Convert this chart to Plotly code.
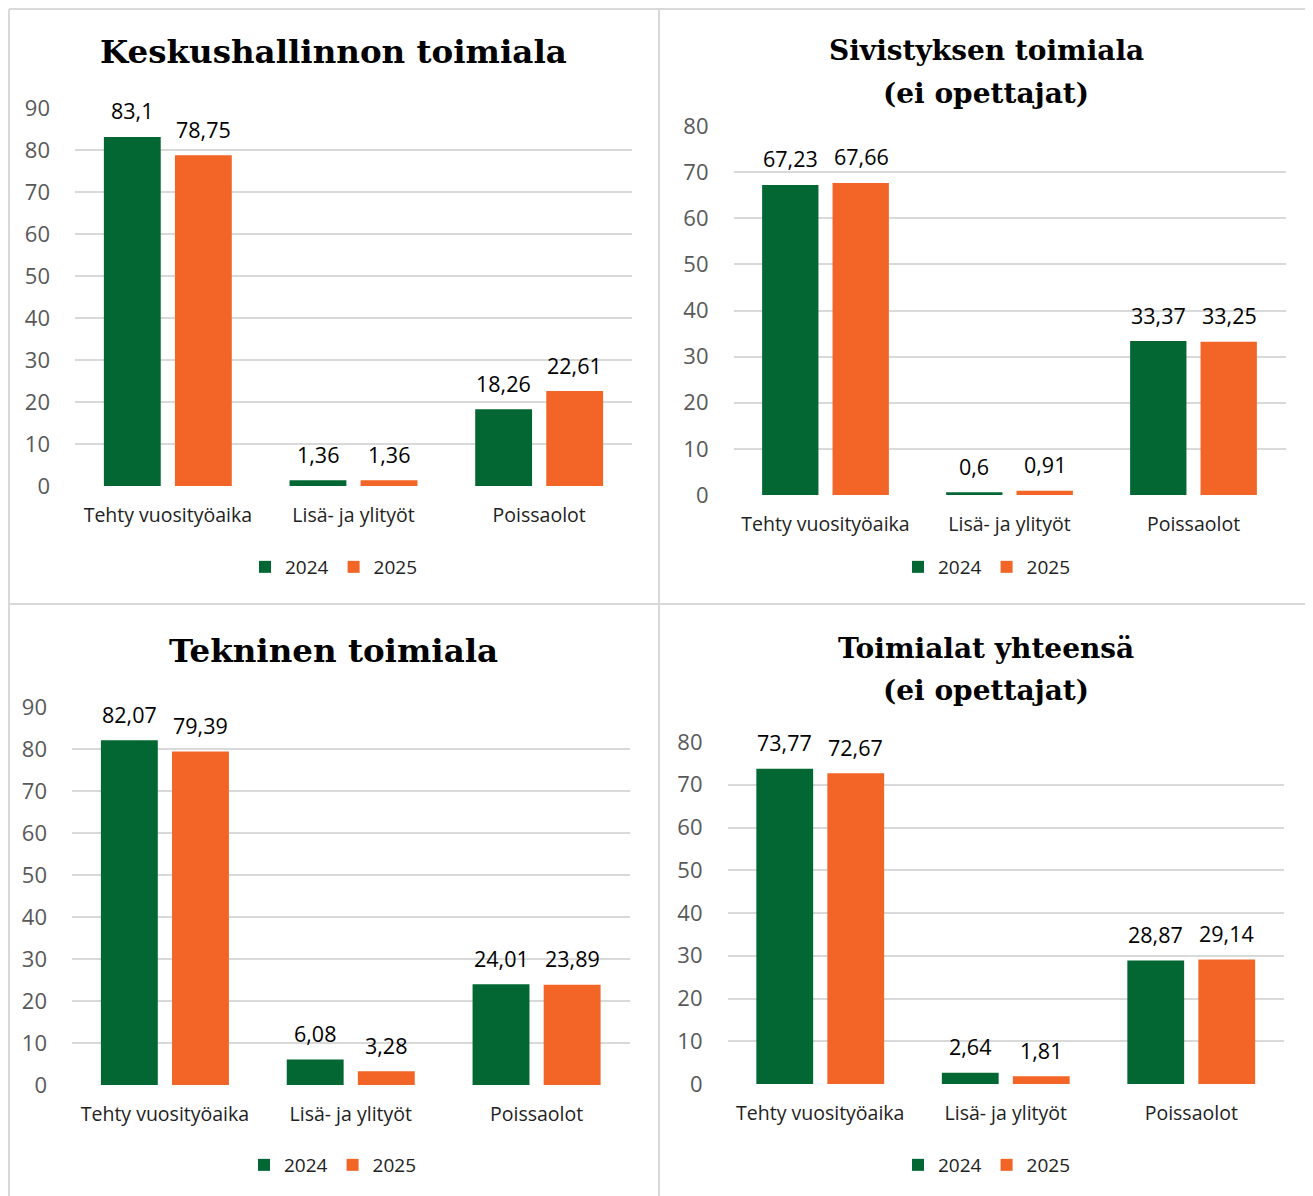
import plotly.graph_objects as go

# page body has an 8px margin, so the figure is drawn 8px smaller and every
# pixel position measured on the reference is shifted by that offset
OFF = 8
W, H = 1313 - OFF, 1196 - OFF

categories = ["Tehty vuosityöaika", "Lisä- ja ylityöt", "Poissaolot"]
years = ["2024", "2025"]

keskus_2024 = [83.1, 1.36, 18.26]
keskus_2025 = [78.75, 1.36, 22.61]

sivistys_2024 = [67.23, 0.6, 33.37]
sivistys_2025 = [67.66, 0.91, 33.25]

tekninen_2024 = [82.07, 6.08, 24.01]
tekninen_2025 = [79.39, 3.28, 23.89]

yhteensa_2024 = [73.77, 2.64, 28.87]
yhteensa_2025 = [72.67, 1.81, 29.14]

titles = [["Keskushallinnon toimiala"],
          ["Sivistyksen toimiala", "(ei opettajat)"],
          ["Tekninen toimiala"],
          ["Toimialat yhteensä", "(ei opettajat)"]]

GREEN = "#036734"
ORANGE = "#F26527"
GRID = "#d9d9d9"
BODY_FONT = "Open Sans"
TITLE_FONT = "DejaVu Serif"


def fmt(v):
    return f"{v:g}".replace(".", ",")


def px(x):
    return (x - OFF) / W


def py(y):
    return 1 - (y - OFF) / H


# pixel boxes of the four plot areas on the reference: (x0, x1, ytop, ybottom)
panels = [
    dict(s2024=keskus_2024, s2025=keskus_2025, box=(75, 632, 108, 486), ymax=90,
         title_x=333, title_ys=[52], title_size=32.5, legend_xy=(334, 567)),
    dict(s2024=sivistys_2024, s2025=sivistys_2025, box=(733.5, 1285.5, 126, 495), ymax=80,
         title_x=986, title_ys=[50, 93], title_size=28, legend_xy=(987, 567)),
    dict(s2024=tekninen_2024, s2025=tekninen_2025, box=(72, 629.5, 707, 1085), ymax=90,
         title_x=333, title_ys=[650], title_size=32.5, legend_xy=(333, 1165)),
    dict(s2024=yhteensa_2024, s2025=yhteensa_2025, box=(727.5, 1284, 742, 1084), ymax=80,
         title_x=986, title_ys=[648, 690], title_size=28, legend_xy=(987, 1165)),
]

fig = go.Figure()
annotations = []
layout = {}

for i, p in enumerate(panels):
    n = "" if i == 0 else str(i + 1)
    xa, ya = "x" + n, "y" + n
    leg = "legend" + n
    x0, x1, yt, yb = p["box"]

    for yr, vals, col in [(years[0], p["s2024"], GREEN), (years[1], p["s2025"], ORANGE)]:
        fig.add_trace(go.Bar(x=categories, y=vals, name=yr, marker_color=col,
                             marker_line_width=0, xaxis=xa, yaxis=ya, legend=leg,
                             cliponaxis=False))
        shift = -35.5 if yr == "2024" else 35.5
        for c, v in zip(categories, vals):
            annotations.append(dict(x=c, y=v, xref=xa, yref=ya, text=fmt(v),
                                    showarrow=False, xshift=shift, yshift=26,
                                    yanchor="middle",
                                    font=dict(family=BODY_FONT, size=21.5, color="#000000")))

    layout["xaxis" + n] = dict(domain=[px(x0), px(x1)], anchor=ya, showgrid=False,
                               showline=False, zeroline=False, ticks="",
                               ticklabelstandoff=15,
                               tickfont=dict(family=BODY_FONT, size=19.5, color="#222222"))
    layout["yaxis" + n] = dict(domain=[py(yb), py(yt)], anchor=xa,
                               range=[0, p["ymax"]], dtick=10, showgrid=True,
                               gridcolor=GRID, gridwidth=2, zeroline=False,
                               showline=False, ticks="", ticklabelstandoff=24,
                               tickfont=dict(family=BODY_FONT, size=22, color="#595959"))
    lx, ly = p["legend_xy"]
    layout[leg] = dict(x=px(lx), y=py(ly), xanchor="center", yanchor="middle",
                       orientation="h", bgcolor="rgba(0,0,0,0)", itemwidth=30,
                       font=dict(family=BODY_FONT, size=19, color="#222222"))

    for line_text, ty in zip(titles[i], p["title_ys"]):
        annotations.append(dict(x=px(p["title_x"]), y=py(ty), xref="paper", yref="paper",
                                text="<b>" + line_text + "</b>", showarrow=False,
                                xanchor="center", yanchor="middle",
                                font=dict(family=TITLE_FONT, size=p["title_size"],
                                          color="#000000")))

# panel borders
line = dict(color=GRID, width=2)
edge = OFF + 1
shapes = [
    dict(type="line", xref="paper", yref="paper", x0=px(edge), x1=1, y0=py(edge), y1=py(edge), line=line),
    dict(type="line", xref="paper", yref="paper", x0=px(edge), x1=px(edge), y0=0, y1=py(edge), line=line),
    dict(type="line", xref="paper", yref="paper", x0=px(659), x1=px(659), y0=0, y1=py(edge), line=line),
    dict(type="line", xref="paper", yref="paper", x0=px(edge), x1=1, y0=py(604), y1=py(604), line=line),
]

fig.update_layout(
    width=W, height=H,
    margin=dict(l=0, r=0, t=0, b=0, autoexpand=False),
    paper_bgcolor="white", plot_bgcolor="white",
    barmode="group", bargap=0.2345, bargroupgap=0.2,
    annotations=annotations, shapes=shapes,
    **layout,
)

fig.write_html("out.html")
